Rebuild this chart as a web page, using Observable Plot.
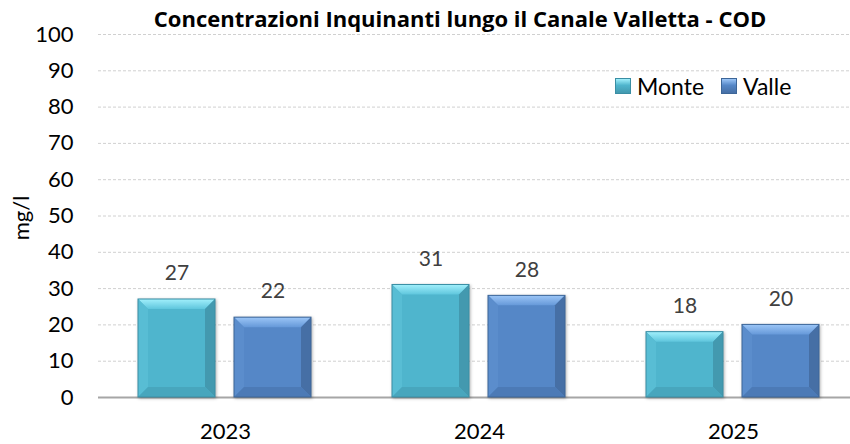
<!DOCTYPE html>
<html>
<head>
<meta charset="utf-8">
<script src="https://cdn.jsdelivr.net/npm/d3@7"></script>
<script src="https://cdn.jsdelivr.net/npm/@observablehq/plot@0.6"></script>
<style>
  html, body { margin: 0; padding: 0; background: #fff; }
  #wrap { position: relative; width: 850px; height: 444px; font-family: Lato, "Open Sans", sans-serif; overflow: hidden; }
  #title { position: absolute; left: 0; width: 920px; top: 3px; text-align: center; font-family: "Open Sans", sans-serif; font-weight: 700; font-size: 22px; color: #000; white-space: nowrap; }
  #legend { position: absolute; left: 615px; top: 72px; display: flex; align-items: center; font-size: 23px; color: #000; }
  .sw { width: 16px; height: 16px; box-sizing: border-box; margin-right: 6px; }
  .item { display: flex; align-items: center; margin-right: 17px; }
  svg { overflow: visible; }
</style>
</head>
<body>
<div id="wrap">
  <div id="chart"></div>
  <div id="title">Concentrazioni Inquinanti lungo il Canale Valletta - COD</div>
  <div id="legend"></div>
</div>
<script>
const years = ["2023", "2024", "2025"];
const series = ["Monte", "Valle"];
const monte = [27, 31, 18];
const valle = [22, 28, 20];
const yTicks = [0, 10, 20, 30, 40, 50, 60, 70, 80, 90, 100];
const yLabel = "mg/l";

const data = [];
years.forEach((yr, i) => {
  data.push({year: yr, series: series[0], value: monte[i]});
  data.push({year: yr, series: series[1], value: valle[i]});
});

const pal = {
  Monte: {main: "#4FB5CD", top1: "#A2F0FC", top2: "#5FC6DD", left: "#58BDD4", right: "#4399AF", bottom: "#48A6BD", stroke: "#3A8EA4"},
  Valle: {main: "#5587C7", top1: "#9CC6F7", top2: "#6699D9", left: "#5B8DCC", right: "#466FA5", bottom: "#4C7AB6", stroke: "#3D6698"}
};

function bevel(index, scales, values, dimensions, context, next) {
  const g = next(index, scales, values, dimensions, context);
  g.querySelectorAll("rect").forEach(r => {
    const x = +r.getAttribute("x"), y = +r.getAttribute("y");
    const w = +r.getAttribute("width"), h = +r.getAttribute("height");
    const fill = (r.getAttribute("fill") || "").toUpperCase();
    const key = fill === pal.Monte.main.toUpperCase() ? "Monte" : "Valle";
    const p = pal[key];
    const b = 10;
    const parent = r.parentNode;
    const mk = (pts, f) => {
      const el = document.createElementNS("http://www.w3.org/2000/svg", "polygon");
      el.setAttribute("points", pts.map(d => d.join(",")).join(" "));
      el.setAttribute("fill", f);
      parent.appendChild(el);
    };
    mk([[x, y], [x + w, y], [x + w - b, y + b], [x + b, y + b]], `url(#top${key})`);
    mk([[x, y], [x + b, y + b], [x + b, y + h - b], [x, y + h]], p.left);
    mk([[x + w, y], [x + w - b, y + b], [x + w - b, y + h - b], [x + w, y + h]], p.right);
    mk([[x, y + h], [x + b, y + h - b], [x + w - b, y + h - b], [x + w, y + h]], p.bottom);
    const o = document.createElementNS("http://www.w3.org/2000/svg", "rect");
    o.setAttribute("x", x); o.setAttribute("y", y); o.setAttribute("width", w); o.setAttribute("height", h);
    o.setAttribute("fill", "none"); o.setAttribute("stroke", p.stroke); o.setAttribute("stroke-width", 1);
    parent.appendChild(o);
  });
  g.style.filter = "drop-shadow(1px 1px 1.5px rgba(0,0,0,0.3))";
  return g;
}

const chart = Plot.plot({
  width: 850,
  height: 444,
  marginLeft: 97,
  marginRight: -11,
  marginTop: 34,
  marginBottom: 47,
  style: {fontFamily: "Lato, 'Open Sans', sans-serif", fontSize: "22px", color: "#000", background: "transparent"},
  fx: {domain: years, paddingInner: 0, paddingOuter: 0, label: null},
  x: {domain: series, paddingInner: 0.196, paddingOuter: 0.41, axis: null},
  y: {domain: [0, 100], axis: null},
  color: {domain: series, range: [pal.Monte.main, pal.Valle.main]},
  marks: [
    Plot.ruleY(yTicks.filter(d => d > 0), {stroke: "#d0d0d0", strokeWidth: 1, strokeDasharray: "3,2"}),
    Plot.ruleY([0], {stroke: "#a6a6a6", strokeWidth: 2}),
    Plot.barY(data, {fx: "year", x: "series", y: "value", fill: "series", render: bevel}),
    Plot.text(data, {fx: "year", x: "series", y: "value", text: d => String(d.value), dy: -26, fill: "#404040", fontSize: 21}),
    Plot.axisY({ticks: yTicks, tickSize: 0, tickPadding: 25, fontSize: 22, label: null}),
    Plot.axisFx({anchor: "bottom", tickSize: 0, tickPadding: 26, fontSize: 22, label: null}),
    Plot.text([yLabel], {facet: "super", frameAnchor: "left", textAnchor: "middle", dx: -77, dy: 2, rotate: -90, fontSize: 22, fill: "#000"})
  ]
});

const ns = "http://www.w3.org/2000/svg";
const defs = document.createElementNS(ns, "defs");
for (const k of series) {
  const lg = document.createElementNS(ns, "linearGradient");
  lg.setAttribute("id", "top" + k);
  lg.setAttribute("x1", "0"); lg.setAttribute("y1", "0"); lg.setAttribute("x2", "0"); lg.setAttribute("y2", "1");
  [[0, pal[k].top1], [1, pal[k].top2]].forEach(([o, c]) => {
    const s = document.createElementNS(ns, "stop");
    s.setAttribute("offset", o); s.setAttribute("stop-color", c);
    lg.appendChild(s);
  });
  defs.appendChild(lg);
}
chart.insertBefore(defs, chart.firstChild);
document.getElementById("chart").appendChild(chart);

const leg = document.getElementById("legend");
for (const k of series) {
  const it = document.createElement("div");
  it.className = "item";
  const sw = document.createElement("div");
  sw.className = "sw";
  sw.style.background = `linear-gradient(180deg, ${pal[k].top1} 0%, ${pal[k].main} 45%, ${pal[k].right} 100%)`;
  sw.style.border = `1px solid ${pal[k].stroke}`;
  it.appendChild(sw);
  const t = document.createElement("span");
  t.textContent = k;
  it.appendChild(t);
  leg.appendChild(it);
}
</script>
</body>
</html>
